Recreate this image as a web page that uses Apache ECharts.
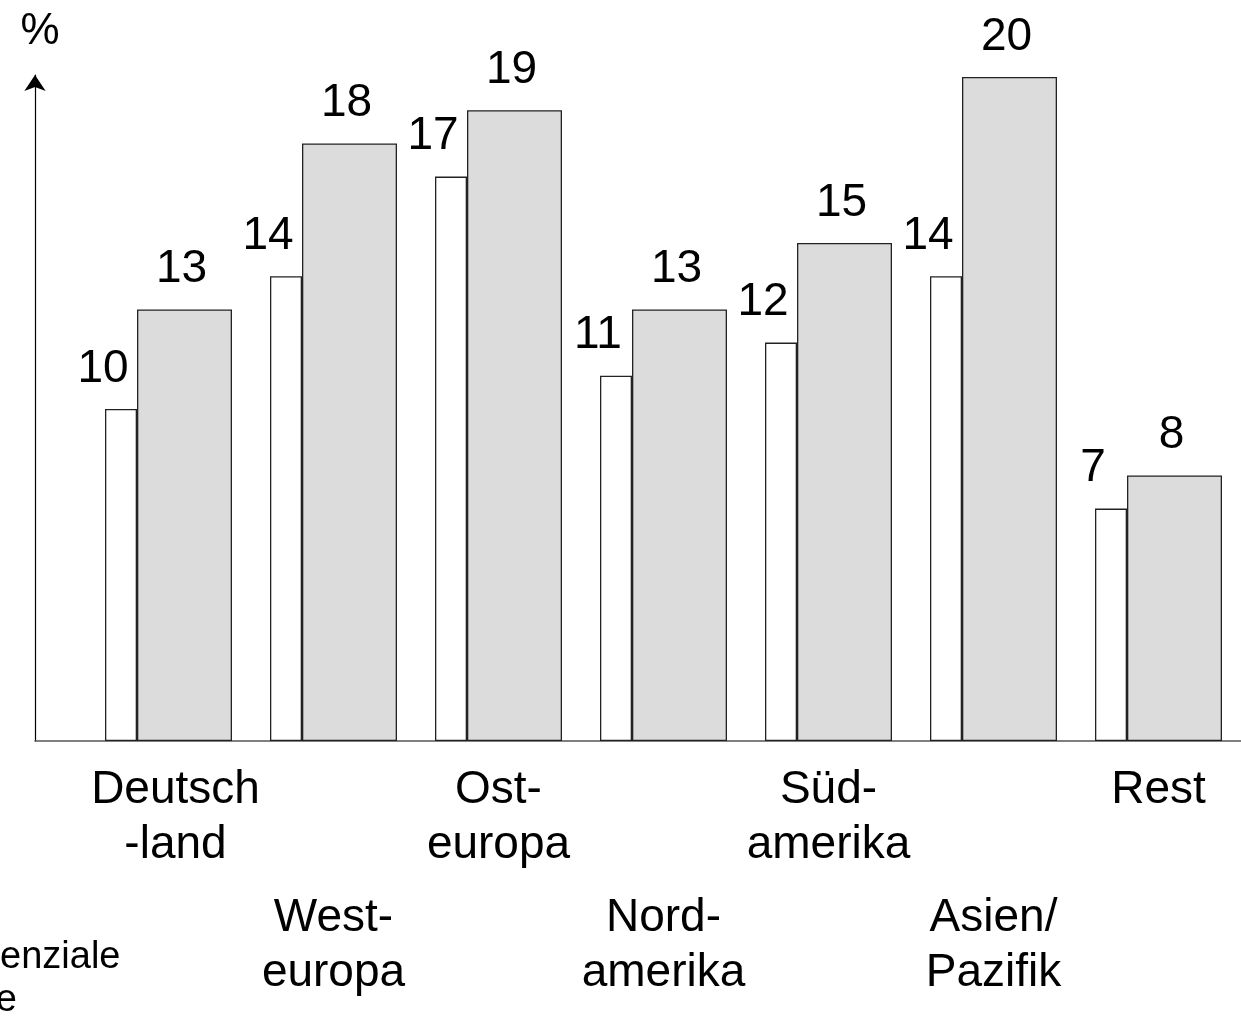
<!DOCTYPE html>
<html>
<head>
<meta charset="utf-8">
<script src="https://cdn.jsdelivr.net/npm/echarts@6/dist/echarts.min.js"></script>
<style>
html,body{margin:0;padding:0;background:#fff;}
#chart{width:1241px;height:1021px;}
</style>
</head>
<body>
<div id="chart"></div>
<script>
const categories = ['Deutsch\n-land', 'West-\neuropa', 'Ost-\neuropa', 'Nord-\namerika', 'Süd-\namerika', 'Asien/\nPazifik', 'Rest'];
const valuesToday = [10, 14, 17, 11, 12, 14, 7];
const valuesFuture = [13, 18, 19, 13, 15, 20, 8];
const yUnit = '%';
const legendText = 'Potenziale\nOrte';

const FONT = "'Liberation Sans', Arial, Helvetica, sans-serif";
const chart = echarts.init(document.getElementById('chart'), null, {renderer: 'canvas'});

const labelBase = {
  show: true, position: 'top', distance: 17,
  fontSize: 46, color: '#000', fontFamily: FONT
};

function catLabel(v, i) {
  if (i === 0) {
    return v.split('\n').map(s => '{d|' + s + '}').join('\n');
  }
  return v;
}

const axisLabelBase = {
  interval: 0, fontSize: 46, lineHeight: 55,
  color: '#000', fontFamily: FONT,
  rich: {d: {fontSize: 46, lineHeight: 55, color: '#000', fontFamily: FONT, padding: [0, 0, 0, 14]}}
};

chart.setOption({
  animation: false,
  backgroundColor: '#fff',
  grid: [
    {left: 86, width: 1157, top: 77, bottom: 280, containLabel: false},
    {left: 35, right: 0, top: 75, bottom: 280, containLabel: false}
  ],
  xAxis: [
    {
      type: 'category', gridIndex: 0, data: categories,
      axisLine: {show: false}, axisTick: {show: false},
      axisLabel: Object.assign({}, axisLabelBase, {
        margin: 22,
        formatter: (v, i) => (i % 2 === 0 ? catLabel(v, i) : '')
      })
    },
    {
      type: 'category', gridIndex: 0, data: categories, position: 'bottom',
      axisLine: {show: false}, axisTick: {show: false},
      axisLabel: Object.assign({}, axisLabelBase, {
        margin: 150,
        formatter: (v, i) => (i % 2 === 1 ? v : '')
      })
    },
    {
      type: 'value', gridIndex: 1, min: 0, max: 1,
      axisLine: {show: true, lineStyle: {color: '#555', width: 1.5}},
      axisTick: {show: false}, axisLabel: {show: false}, splitLine: {show: false}
    }
  ],
  yAxis: [
    {
      type: 'value', gridIndex: 0, min: 0, max: 20,
      axisLine: {show: false}, axisTick: {show: false},
      axisLabel: {show: false}, splitLine: {show: false}
    },
    {
      type: 'value', gridIndex: 1, min: 0, max: 1,
      name: yUnit, nameLocation: 'end', nameGap: 21,
      nameTextStyle: {fontSize: 44, color: '#000', fontFamily: FONT, padding: [0, 0, 0, 10]},
      axisLine: {show: true, symbol: ['none', 'arrow'], symbolSize: [16, 16],
        lineStyle: {color: '#000', width: 1.2}},
      axisTick: {show: false}, axisLabel: {show: false}, splitLine: {show: false}
    }
  ],
  series: [
    {
      type: 'bar', name: 'heute', xAxisIndex: 0, yAxisIndex: 0,
      data: valuesToday, barWidth: 32, barGap: '0%',
      itemStyle: {color: '#fff', borderColor: '#222', borderWidth: 1.3},
      label: Object.assign({}, labelBase, {offset: [-18, 0]})
    },
    {
      type: 'bar', name: 'zukünftig', xAxisIndex: 0, yAxisIndex: 0,
      data: valuesFuture, barWidth: 95, barGap: '0%',
      itemStyle: {color: '#dcdcdc', borderColor: '#222', borderWidth: 1.3},
      label: Object.assign({}, labelBase, {offset: [-3, 0]})
    }
  ],
  graphic: [
    {
      type: 'text', left: -57, top: 936,
      style: {text: legendText, fontSize: 38, lineHeight: 43, fill: '#000', fontFamily: FONT}
    }
  ]
});
</script>
</body>
</html>
